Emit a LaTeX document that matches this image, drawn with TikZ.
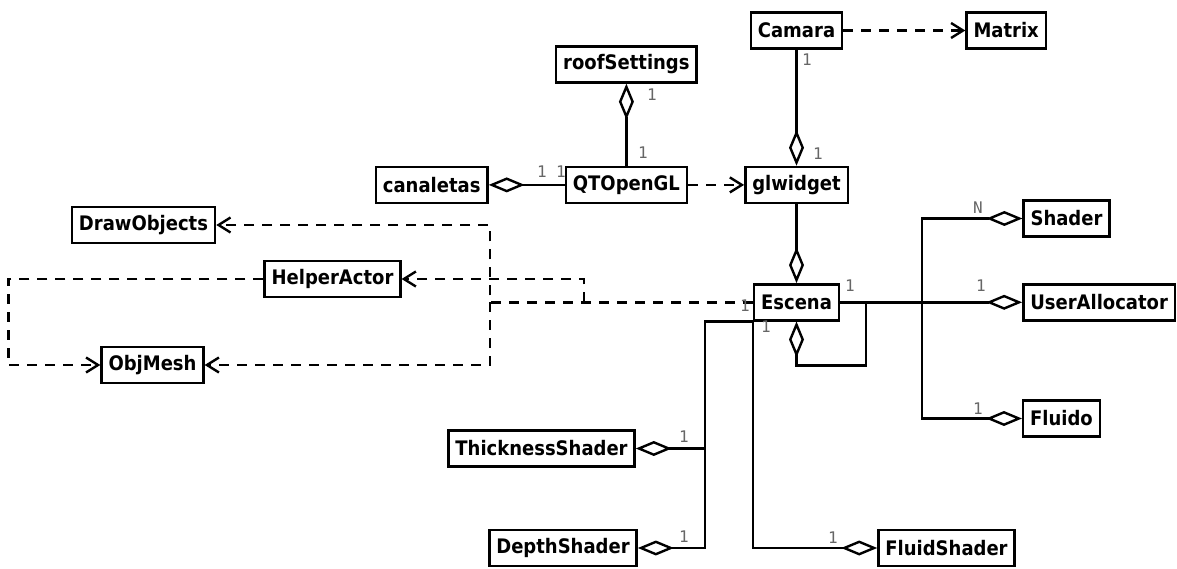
\documentclass[tikz,border=0pt]{standalone}
\usepackage{fontspec}
\setmainfont{DejaVu Sans Condensed}
\newfontfamily\multfont{DejaVu Sans Mono}
\usetikzlibrary{positioning,arrows.meta}

\begin{document}
\begin{tikzpicture}[x=1pt, y=-1pt,
	cls/.style={rectangle, draw, line width=2.4pt, minimum height=36pt,
	inner xsep=7pt, font=\bfseries\fontsize{20}{20}\selectfont},
	agg/.style={line width=2.4pt, -{Diamond[open, length=36pt, width=15pt]}},
	dep/.style={line width=2.4pt, dash pattern=on 10pt off 8pt,
	-{Straight Barb[length=12pt, width=15pt]}},
	mult/.style={font=\multfont\fontsize{16}{16}\selectfont, text=black!60, inner sep=0pt}
	]
	\useasboundingbox (0,0) rectangle (1177,569);
	
	\node[cls] (camara) at (796.5,30.5) {Camara};
	\node[cls] (matrix) [right=122pt of camara] {Matrix};
	\node[cls] (glwidget) [below=116pt of camara] {glwidget};
	\node[cls] (qtopengl) [left=56pt of glwidget] {QTOpenGL};
	\node[cls] (canaletas) [left=76pt of qtopengl] {canaletas};
	\node[cls] (roof) [above=82pt of qtopengl] {roofSettings};
	\node[cls] (escena) [below=79pt of glwidget] {Escena};
	\node[cls] (userall) [right=182pt of escena] {UserAllocator};
	\node[cls] (shader) at (1066.5,218.5) {Shader};
	\node[cls] (fluido) at (1061.5,418.5) {Fluido};
	\node[cls] (drawobj) at (143.5,225) {DrawObjects};
	\node[cls] (helper) at (332.5,279) {HelperActor};
	\node[cls] (objmesh) at (152.5,365) {ObjMesh};
	\node[cls] (thick) at (541.5,448.5) {ThicknessShader};
	\node[cls] (depth) at (563,548) {DepthShader};
	\node[cls] (fluidsh) at (946.5,548) {FluidShader};
	
	\coordinate (jS) at ([xshift=82pt]escena.east);
	\coordinate (jL) at ([xshift=26pt]escena.east);
	\coordinate (jD) at ([xshift=-263pt]escena.west);
	\coordinate (jH) at ([xshift=-169pt]escena.west);
	\coordinate (jT) at ([xshift=-48pt]escena.south west);
	\coordinate (bendL) at ([xshift=-255pt]helper.west);
	
	\draw[dep] (camara) -- (matrix);
	\draw[dep] (qtopengl) -- (glwidget);
	\draw[agg] (camara) -- (glwidget);
	\draw[agg] (qtopengl) -- (roof);
	\draw[agg] (qtopengl) -- (canaletas);
	\draw[agg] (glwidget) -- (escena);
	\draw[agg] (escena) -- (userall);
	\draw[agg] (jS) |- (shader.west);
	\draw[agg] (jS) |- (fluido.west);
	\draw[agg] (jL) |- ([yshift=-44pt]escena.south) -- (escena.south);
	\draw[agg] (escena.south west) -- (jT) |- (depth.east);
	\draw[agg] (jT |- thick.east) -- (thick.east);
	\draw[agg] (escena.south west) |- (fluidsh.west);
	\draw[dep] (escena.west) -- (jD) |- (drawobj.east);
	\draw[dep] (jD) |- (objmesh.east);
	\draw[dep] (jH) |- (helper.east);
	\draw[dep] (helper.west) -- (bendL) |- (objmesh.west);
	
	\node[mult] (m1) at (807,60) {1};
	\node[mult] (m2) at (818,154) {1};
	\node[mult] (m3) at (652,95) {1};
	\node[mult] (m4) at (643,153) {1};
	\node[mult] (m5) at (542,172) {1};
	\node[mult] (m6) at (561,172) {1};
	\node[mult] (m7) at (850,286) {1};
	\node[mult] (m8) at (981,286) {1};
	\node[mult] (m9) at (978,208) {N};
	\node[mult] (m10) at (978,409) {1};
	\node[mult] (m11) at (745,306) {1};
	\node[mult] (m12) at (766,327) {1};
	\node[mult] (m13) at (684,437) {1};
	\node[mult] (m14) at (684,537) {1};
	\node[mult] (m15) at (833,538) {1};
\end{tikzpicture}
\end{document}
